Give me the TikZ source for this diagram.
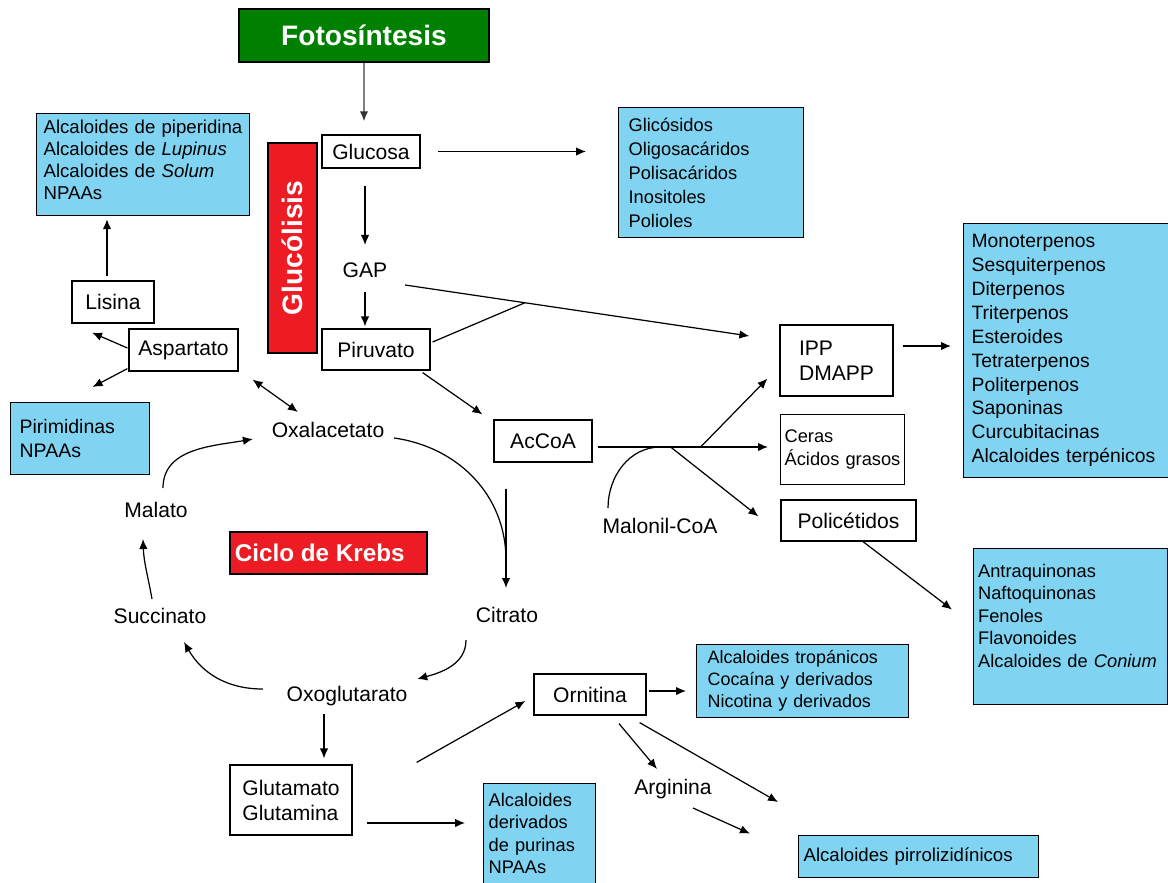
\documentclass[tikz,border=0pt]{standalone}
\usepackage{fontspec}
\setmainfont{Liberation Sans}
\usetikzlibrary{arrows.meta}
\usetikzlibrary{calc}
\definecolor{fotogreen}{RGB}{0,128,0}
\definecolor{krebsred}{RGB}{237,28,36}
\definecolor{infoblue}{RGB}{128,212,242}
\tikzset{arr/.style={line width=0.7pt, -{Latex[length=0.2cm,width=0.17cm]}}}

\begin{document}
\begin{tikzpicture}[x=0.02cm, y=-0.02cm,
    lbl/.style={inner sep=0pt, text height=8.5pt, text depth=2.5pt, font=\fontsize{12}{14.2}\selectfont},
    cmpd/.style={draw, line width=0.7pt, inner sep=0pt, align=left, font=\fontsize{12}{14.2}\selectfont},
    info/.style={draw, line width=0.7pt, fill=infoblue, anchor=north west, align=left, inner ysep=0pt},
    title/.style={draw, line width=0.7pt, inner sep=0pt, text=white, font=\bfseries\fontsize{16}{19}\selectfont}]
  \useasboundingbox (0,0) rectangle (1168,882);

  % glucosa y glucolisis
  \node[title, fill=fotogreen, minimum width=5cm, minimum height=1.06cm] (foto) at (364,35.5) {Fotosíntesis};
  \node[cmpd, minimum width=1.96cm, minimum height=0.66cm] (glucosa) at (371,151.5) {Glucosa};
  \node[title, fill=krebsred, rotate=90, minimum width=4.2cm, minimum height=0.98cm] (gluco) at (292.5,248) {Glucólisis};
  \node[info, text width=3.3cm, inner xsep=0.2cm, minimum height=2.6cm, font=\fontsize{10.4}{13.6}\selectfont] (azucares) at (618,107)
    {Glicósidos\\Oligosacáridos\\Polisacáridos\\Inositoles\\Polioles};
  \node[lbl] (gap) at (365,272) {GAP};
  \node[cmpd, minimum width=2.16cm, minimum height=0.82cm] (piruvato) at (376,349.5) {Piruvato};
  \node[cmpd, minimum width=1.96cm, minimum height=0.84cm] (accoa) at (543,441) {AcCoA};
  \node[lbl] (malonil) at (660,528) {Malonil-CoA};

  % terpenos, ceras, policetidos
  \node[cmpd, minimum width=2.26cm, minimum height=1.42cm] (ipp) at (836.5,360.5) {IPP\\DMAPP};
  \node[info, fill=white, text width=2.32cm, inner xsep=0.08cm, minimum height=1.4cm, font=\fontsize{10.4}{13}\selectfont] (ceras) at (780,414)
    {Ceras\\Ácidos grasos};
  \node[cmpd, minimum width=2.7cm, minimum height=0.82cm] (polic) at (848.5,520.5) {Policétidos};
  \node[info, text width=3.82cm, inner xsep=0.16cm, minimum height=5.08cm, font=\fontsize{11}{13.6}\selectfont] (terp) at (963,223)
    {Monoterpenos\\Sesquiterpenos\\Diterpenos\\Triterpenos\\Esteroides\\Tetraterpenos\\Politerpenos\\Saponinas\\Curcubitacinas\\Alcaloides terpénicos};
  \node[info, text width=3.7cm, inner xsep=0.09cm, minimum height=3.12cm, font=\fontsize{10.4}{12.75}\selectfont] (fenoles) at (973,548)
    {Antraquinonas\\Naftoquinonas\\Fenoles\\Flavonoides\\Alcaloides de \textit{Conium}\rule[-12.5pt]{0pt}{12.5pt}};

  % aspartato
  \node[info, text width=3.98cm, inner xsep=0.14cm, minimum height=2.04cm, font=\fontsize{10.6}{12.5}\selectfont] (piper) at (36,113)
    {Alcaloides de piperidina\\Alcaloides de \textit{Lupinus}\\Alcaloides de \textit{Solum}\\NPAAs\rule[-5.7pt]{0pt}{5.7pt}};
  \node[cmpd, minimum width=1.64cm, minimum height=0.84cm] (lisina) at (113,302) {Lisina};
  \node[cmpd, minimum width=2.18cm, minimum height=0.84cm] (aspart) at (183.5,350) {Aspartato};
  \node[info, text width=2.42cm, inner xsep=0.18cm, minimum height=1.44cm, font=\fontsize{11.1}{13.6}\selectfont] (pirim) at (10,402)
    {Pirimidinas\\NPAAs};

  % ciclo de Krebs
  \node[lbl] (oxal) at (328,432) {Oxalacetato};
  \node[lbl] (citrato) at (507,617) {Citrato};
  \node[lbl] (oxog) at (347,696) {Oxoglutarato};
  \node[lbl] (succ) at (160,618) {Succinato};
  \node[lbl] (malato) at (156,512) {Malato};
  \node[title, fill=krebsred, minimum width=3.94cm, minimum height=0.84cm, font=\bfseries\fontsize{13.8}{16}\selectfont] (krebs) at (328.5,553) {Ciclo de Krebs\hspace*{10pt}};

  % glutamato, ornitina
  \node[cmpd, minimum width=2.44cm, minimum height=1.4cm] (glutam) at (291,800) {Glutamato\\Glutamina};
  \node[info, text width=2.04cm, inner xsep=0.1cm, minimum height=2cm, font=\fontsize{10.4}{12.75}\selectfont] (purinas) at (483,783)
    {Alcaloides\\derivados\\de purinas\\NPAAs};
  \node[cmpd, minimum width=2.24cm, minimum height=0.82cm] (ornitina) at (590,694.5) {Ornitina};
  \node[info, text width=3.8cm, inner xsep=0.22cm, minimum height=1.46cm, font=\fontsize{10.2}{12.5}\selectfont] (tropan) at (696,644)
    {Alcaloides tropánicos\\Cocaína y derivados\\Nicotina y derivados};
  \node[lbl] (arginina) at (673,789) {Arginina};
  \node[info, text width=4.6cm, inner xsep=0.1cm, minimum height=0.84cm, font=\fontsize{10.6}{12.7}\selectfont] (pirrol) at (798,835)
    {Alcaloides pirrolizidínicos};

  % conectores
  \draw[line width=1pt, draw=gray, -{Latex[length=0.2cm,width=0.17cm,color=black!80]}, shorten >=0.26cm] (foto.south) -- (foto.south |- glucosa.north);
  \draw[arr, shorten <=0.34cm, shorten >=0.64cm] (glucosa.east) -- (glucosa.east -| azucares.west);
  \draw[arr, shorten <=0.34cm, shorten >=0.34cm] (glucosa.south -| gap.north) -- (gap.north);
  \draw[arr, shorten <=0.2cm, shorten >=0.04cm] (gap.south) -- (gap.south |- piruvato.north);

  \coordinate (gapout) at ([shift={(17.5,13)}]gap.east);
  \coordinate (ippin) at ([shift={(-30,-24.5)}]ipp.west);
  \draw[arr] (gapout) -- (ippin);
  \draw[line width=0.7pt] ([shift={(2,-7.5)}]piruvato.east) -- ($(gapout)!0.348!(ippin)$);
  \draw[arr] ([shift={(-8,2)}]piruvato.south east) -- ([shift={(-11,-5)}]accoa.north west);

  \coordinate (acout) at ([shift={(5,6)}]accoa.east);
  \draw[arr, shorten >=0.24cm] (acout) -- (acout -| ceras.west);
  \draw[line width=0.7pt] ([shift={(-52,-10)}]malonil.north) to[out=90, in=180] ([shift={(63,0)}]acout);
  \draw[arr] ([shift={(103,0)}]acout) -- ([shift={(-12,-18)}]ipp.south west);
  \draw[arr] ([shift={(73,0)}]acout) -- ([shift={(-22,17)}]polic.north west);

  \coordinate (ippout) at ([shift={(9,-14.5)}]ipp.east);
  \draw[arr, shorten >=0.24cm] (ippout) -- (ippout -| terp.west);
  \draw[arr] ([shift={(14.5,0)}]polic.south) -- ([shift={(-21,-17)}]fenoles.west);

  \coordinate (lisout) at ([shift={(-6,-4)}]lisina.north);
  \draw[arr, shorten >=0.06cm] (lisout) -- (lisout |- piper.south);
  \draw[arr] ([shift={(-1,-2)}]aspart.west) -- ([shift={(-21,9)}]lisina.south);
  \draw[arr] ([shift={(-1,-3)}]aspart.south west) -- ([shift={(12.5,-15)}]pirim.north);
  \draw[line width=0.7pt, {Latex[length=0.2cm,width=0.17cm]}-{Latex[length=0.2cm,width=0.17cm]}]
    ([shift={(14,8)}]aspart.south east) -- ([shift={(26.5,-10)}]oxal.north west);

  \coordinate (accdown) at ([shift={(-37,26)}]accoa.south);
  \coordinate (citin) at ([shift={(-1,-47)}]citrato.north);
  \draw[line width=0.7pt] ([shift={(9.5,6)}]oxal.east) to[out=-8, in=90] (citin);
  \draw[arr, shorten >=0.38cm] (accdown) -- (accdown |- citrato.north);
  \draw[arr] ([shift={(-41,13)}]citrato.south) to[out=-90, in=15] ([shift={(9.5,-7)}]oxog.north east);
  \draw[arr] ([shift={(-23.5,-7)}]oxog.west) to[out=180, in=-60] ([shift={(24,14)}]succ.south);
  \draw[arr] ([shift={(-8,-9)}]succ.north) to[out=100, in=-88] ([shift={(-13,17)}]malato.south);
  \draw[arr] ([shift={(7,-14)}]malato.north) to[out=90, in=190] ([shift={(-18.5,7)}]oxal.west);

  \coordinate (oxgout) at ([shift={(-23,8)}]oxog.south);
  \draw[arr, shorten >=0.12cm] (oxgout) -- (oxgout |- glutam.north);
  \draw[arr] ([shift={(64,-2)}]glutam.north east) -- ([shift={(-8,6.5)}]ornitina.west);
  \coordinate (glout) at ([shift={(14,23)}]glutam.east);
  \draw[arr, shorten >=0.36cm] (glout) -- (glout -| purinas.west);
  \coordinate (orout) at ([shift={(2,-3.5)}]ornitina.east);
  \draw[arr, shorten >=0.2cm] (orout) -- (orout -| tropan.west);
  \draw[arr] ([shift={(29,8)}]ornitina.south) -- ([shift={(-16,-10)}]arginina.north);
  \draw[arr] ([shift={(-7,7)}]ornitina.south east) -- ([shift={(-20,-33)}]pirrol.north west);
  \draw[arr] ([shift={(-19,9)}]arginina.south east) -- ([shift={(-48,-23)}]pirrol.west);
\end{tikzpicture}
\end{document}
